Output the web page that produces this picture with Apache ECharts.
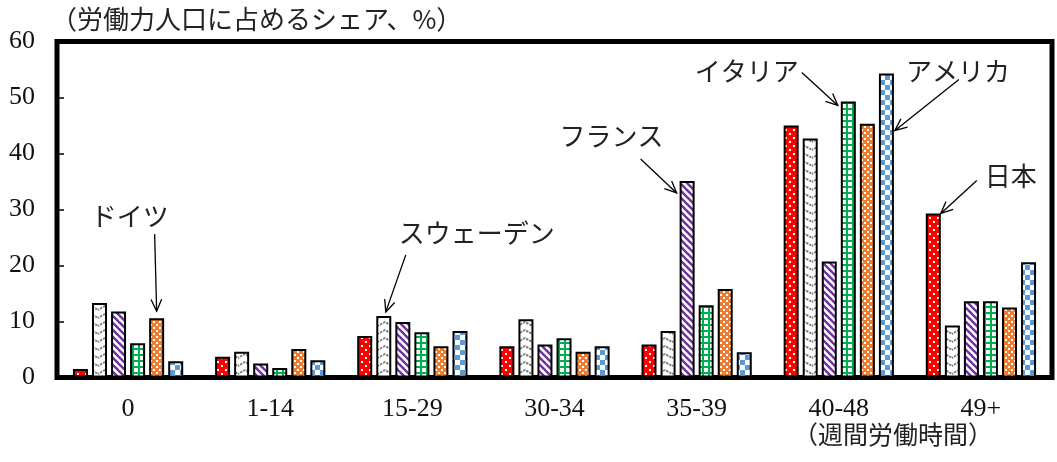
<!DOCTYPE html>
<html><head><meta charset="utf-8">
<script src="https://cdn.jsdelivr.net/npm/echarts@6/dist/echarts.min.js"></script>
<style>html,body{margin:0;padding:0;background:#fff}#c{width:1057px;height:462px}</style>
</head><body><div id="c"></div>
<script>
const categories = ['0', '1-14', '15-29', '30-34', '35-39', '40-48', '49+'];
const seriesNames = ['日本', 'スウェーデン', 'フランス', 'イタリア', 'ドイツ', 'アメリカ'];
const japan   = [1.5, 3.7, 7.4, 5.6, 5.9, 45.0, 29.3];
const sweden  = [13.3, 4.6, 11.0, 10.4, 8.3, 42.7, 9.3];
const france  = [11.8, 2.5, 9.9, 5.9, 35.1, 20.7, 13.6];
const italy   = [6.1, 1.7, 8.1, 7.0, 12.9, 49.3, 13.6];
const germany = [10.6, 5.1, 5.6, 4.6, 15.8, 45.3, 12.5];
const usa     = [2.9, 3.1, 8.3, 5.6, 4.5, 54.3, 20.6];
const yTicks = [0, 10, 20, 30, 40, 50, 60];
const yTitle = '（労働力人口に占めるシェア、%）';
const xTitle = '（週間労働時間）';

const values = [japan, sweden, france, italy, germany, usa];

function tile(w, h, draw) {
  const c = document.createElement('canvas');
  c.width = w; c.height = h;
  draw(c.getContext('2d'), w, h);
  return c;
}
const patterns = [
  tile(8, 8, (g) => { g.fillStyle = '#FF0000'; g.fillRect(0, 0, 8, 8); g.fillStyle = '#fff';
    g.fillRect(1, 1, 2, 2); g.fillRect(5, 5, 2, 2); }),
  tile(14, 8, (g) => { g.fillStyle = '#fff'; g.fillRect(0, 0, 14, 8); g.strokeStyle = '#7a7a7a';
    g.lineWidth = 1.8; g.setLineDash([2.5, 1]); g.beginPath(); g.moveTo(-1, 6.5); g.lineTo(7, 2); g.lineTo(15, 6.5); g.stroke(); }),
  tile(7, 7, (g) => { g.fillStyle = '#fff'; g.fillRect(0, 0, 7, 7); g.strokeStyle = '#7030A0'; g.lineWidth = 2.4;
    for (let k = -1; k <= 1; k++) { g.beginPath(); g.moveTo(k * 7 - 1, -1); g.lineTo(k * 7 + 8, 8); g.stroke(); } }),
  tile(6, 6, (g) => { g.fillStyle = '#fff'; g.fillRect(0, 0, 6, 6); g.fillStyle = '#00B050';
    g.fillRect(0, 0, 6, 2); g.fillRect(0, 0, 2, 6); }),
  tile(6, 6, (g) => { g.fillStyle = '#ED7D31'; g.fillRect(0, 0, 6, 6); g.fillStyle = '#fff';
    g.fillRect(0, 0, 2, 2); g.fillRect(3, 3, 2, 2); }),
  tile(10, 10, (g) => { g.fillStyle = '#fff'; g.fillRect(0, 0, 10, 10); g.fillStyle = '#5B9BD5';
    g.fillRect(0, 0, 5, 5); g.fillRect(5, 5, 5, 5); })
];

const chart = echarts.init(document.getElementById('c'), null, { renderer: 'canvas' });
const serif = '"Liberation Serif", "Times New Roman", serif';
const jp = '"Noto Sans CJK JP", sans-serif';

const option = {
  animation: false,
  backgroundColor: '#fff',
  title: {
    text: yTitle, left: 46, top: 1,
    textStyle: { fontFamily: jp, fontSize: 26, fontWeight: 'normal', color: '#222' }
  },
  grid: { left: 57, right: 5, top: 41.5, bottom: 84.5, show: true, borderColor: '#000', borderWidth: 5, containLabel: false },
  xAxis: {
    type: 'category', data: categories,
    axisLine: { show: false }, axisTick: { show: false },
    axisLabel: { fontFamily: serif, fontSize: 26, color: '#111', margin: 19 }
  },
  yAxis: {
    type: 'value', min: yTicks[0], max: yTicks[yTicks.length - 1], interval: yTicks[1] - yTicks[0],
    splitLine: { show: false },
    axisLine: { show: false },
    axisTick: { show: true, inside: true, length: 7, lineStyle: { color: '#000', width: 1.5 } },
    axisLabel: { fontFamily: serif, fontSize: 26, color: '#111', margin: 22 }
  },
  series: seriesNames.map((name, i) => ({
    name, type: 'bar', data: values[i],
    barWidth: 15, barGap: '27%',
    itemStyle: { color: { image: patterns[i], repeat: 'repeat' }, borderColor: '#000', borderWidth: 2 }
  }))
};
chart.setOption(option);

function barRect(s, c) {
  const lay = chart.getModel().getSeriesByIndex(s).getData().getItemLayout(c);
  const top = Math.min(lay.y, lay.y + lay.height);
  const left = Math.min(lay.x, lay.x + lay.width);
  const w = Math.abs(lay.width);
  return { left: left - 1, right: left + w + 1, cx: left + w / 2, top: top - 1 };
}

// annotation: [series index, category index, tip anchor fn, tail offset, text offset]
const annotations = [
  [4, 0, (r) => [r.cx, r.top - 6], [-2, -77], [-27, -95]],
  [1, 2, (r) => [r.cx + 2, r.top - 3], [20, -57], [91, -79]],
  [2, 4, (r) => [r.left - 2, r.top + 13], [-36, -34], [-65, -57]],
  [3, 5, (r) => [r.left - 2, r.top + 5], [-36, -33], [-91, -34]],
  [5, 5, (r) => [r.right, r.top + 58], [64, -51], [63, -59]],
  [0, 6, (r) => [r.right - 1, r.top + 1], [36, -33], [70, -37]]
];

const graphics = [];
annotations.forEach(([s, c, tipFn, tailOff, textOff]) => {
  const r = barRect(s, c);
  const [tx, ty] = tipFn(r);
  const bx = tx + tailOff[0], by = ty + tailOff[1];
  const dx = tx - bx, dy = ty - by, len = Math.hypot(dx, dy);
  const ux = dx / len, uy = dy / len;
  const hl = 13, ang = 0.42;
  const h1 = [tx - hl * (ux * Math.cos(ang) - uy * Math.sin(ang)), ty - hl * (uy * Math.cos(ang) + ux * Math.sin(ang))];
  const h2 = [tx - hl * (ux * Math.cos(-ang) - uy * Math.sin(-ang)), ty - hl * (uy * Math.cos(-ang) + ux * Math.sin(-ang))];
  graphics.push({ type: 'line', shape: { x1: bx, y1: by, x2: tx, y2: ty }, style: { stroke: '#000', lineWidth: 1.3 }, z: 100 });
  graphics.push({ type: 'polyline', shape: { points: [h1, [tx, ty], h2] }, style: { stroke: '#000', lineWidth: 1.3, fill: null }, z: 100 });
  graphics.push({ type: 'text', x: tx + textOff[0], y: ty + textOff[1], z: 100,
    style: { text: seriesNames[s], font: '26px ' + jp, fill: '#222', align: 'center', verticalAlign: 'middle' } });
});
// x-axis title under the last categories
const px = chart.convertToPixel({ gridIndex: 0 }, [6, 0]);
graphics.push({ type: 'text', x: px[0] - 88, y: px[1] + 57, z: 100,
  style: { text: xTitle, font: '25px ' + jp, fill: '#222', align: 'center', verticalAlign: 'middle' } });

chart.setOption({ graphic: graphics });
</script>
</body></html>
